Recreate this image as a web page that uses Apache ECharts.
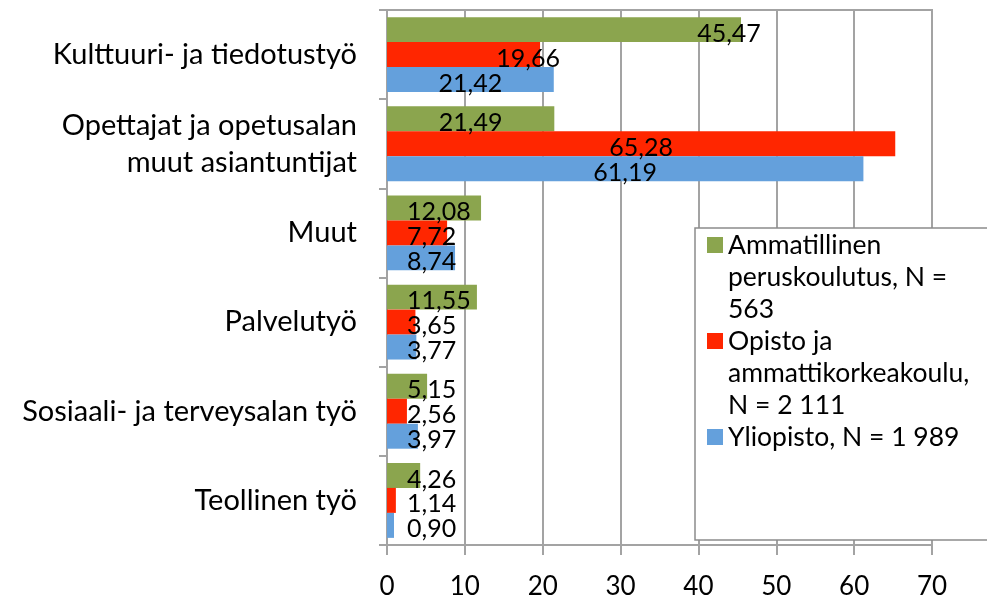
<!DOCTYPE html>
<html>
<head>
<meta charset="utf-8">
<script src="https://cdn.jsdelivr.net/npm/echarts@6/dist/echarts.min.js"></script>
<style>
html, body { margin: 0; padding: 0; background: #fff; }
#chart { width: 987px; height: 604px; }
</style>
</head>
<body>
<div id="chart"></div>
<script>
// luokat ylhäältä alas
const categories = [
    'Kulttuuri- ja tiedotustyö',
    'Opettajat ja opetusalan\nmuut asiantuntijat',
    'Muut',
    'Palvelutyö',
    'Sosiaali- ja terveysalan työ',
    'Teollinen työ'
];
const seriesNames = [
    'Ammatillinen\nperuskoulutus, N =\n563',
    'Opisto ja\nammattikorkeakoulu,\nN = 2 111',
    'Yliopisto, N = 1 989'
];
const ammatillinen = [45.47, 21.49, 12.08, 11.55, 5.15, 4.26];
const opisto = [19.66, 65.28, 7.72, 3.65, 2.56, 1.14];
const yliopisto = [21.42, 61.19, 8.74, 3.77, 3.97, 0.90];
const xTicks = [0, 10, 20, 30, 40, 50, 60, 70];

const colors = ['#8BA54E', '#FF2600', '#64A0DC'];
const font = 'Lato';

const myChart = echarts.init(document.getElementById('chart'));

function makeSeries(idx, values) {
    return {
        name: seriesNames[idx],
        type: 'bar',
        data: values,
        color: colors[idx],
        barGap: '0%',
        barCategoryGap: '16%',
        label: {
            show: true,
            position: 'inside',
            color: '#000',
            fontFamily: font,
            fontSize: 25,
            formatter: p => p.value.toFixed(2).replace('.', ',')
        },
        labelLayout: function (params) {
            const r = params.rect;
            const w = params.labelRect.width;
            let cx = Math.max(r.x + r.width / 2, r.x + 20 + w / 2);
            // kaksi ylintä tarraa on siirretty palkin päähän
            if (params.dataIndex === 0 && params.seriesIndex < 2) {
                cx = r.x + r.width - 12;
            }
            return { x: cx, y: r.y + r.height / 2 + 4, align: 'center', verticalAlign: 'middle' };
        }
    };
}

// selitteen rivikorkeus; tyhjillä riveillä ikoni saadaan ensimmäisen rivin kohdalle
const L = 32;
function padLegend(name) {
    const n = name.split('\n').length;
    const after = Math.max(2 - (n - 1), 0);
    return '\n\n' + name + '\n'.repeat(after);
}

const option = {
    animation: false,
    textStyle: { fontFamily: font },
    grid: {
        left: 387, right: 55, top: 10, bottom: 59,
        show: true, borderColor: '#a3a3a3', borderWidth: 2
    },
    legend: {
        orient: 'vertical',
        left: 695,
        top: 228,
        padding: [-63, 45, 23, 12],
        itemGap: -2 * L,
        itemWidth: 16,
        itemHeight: 16,
        icon: 'rect',
        backgroundColor: '#fff',
        borderColor: '#8c8c8c',
        borderWidth: 1.5,
        formatter: padLegend,
        textStyle: { fontFamily: font, fontSize: 26.5, color: '#000', lineHeight: L },
        data: seriesNames
    },
    xAxis: {
        type: 'value',
        min: xTicks[0],
        max: xTicks[xTicks.length - 1],
        interval: 10,
        axisLine: { show: true, lineStyle: { color: '#a3a3a3', width: 2 } },
        axisTick: { show: true, length: 10, lineStyle: { color: '#a3a3a3', width: 2 } },
        splitLine: { show: true, lineStyle: { color: '#a3a3a3', width: 2 } },
        axisLabel: { color: '#000', fontSize: 26, fontFamily: font, margin: 29 }
    },
    yAxis: {
        type: 'category',
        data: categories,
        inverse: true,
        axisLine: { show: true, lineStyle: { color: '#a3a3a3', width: 2 } },
        axisTick: { show: true, length: 8, lineStyle: { color: '#a3a3a3', width: 2 } },
        splitLine: { show: false },
        axisLabel: { color: '#000', fontSize: 29, fontFamily: font, margin: 30, lineHeight: 37 }
    },
    series: [
        makeSeries(0, ammatillinen),
        makeSeries(1, opisto),
        makeSeries(2, yliopisto)
    ]
};

myChart.setOption(option);

window.addEventListener('resize', () => {
    myChart.resize();
});
</script>
</body>
</html>
